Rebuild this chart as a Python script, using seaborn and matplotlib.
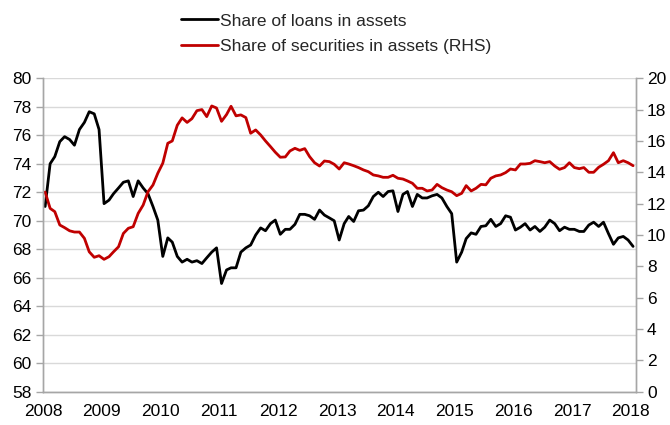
import numpy as np
import pandas as pd
import matplotlib
matplotlib.use('Agg')
import matplotlib.pyplot as plt
import matplotlib.dates as mdates
import seaborn as sns

# monthly observations, Jan 2008 - Jan 2018
months = pd.date_range('2008-01-01', periods=121, freq='MS') + pd.Timedelta(days=14)

loans_share = [
    71.0, 74.0, 74.5, 75.55, 75.9, 75.7, 75.3, 76.4, 76.9, 77.65, 77.5, 76.4,
    71.2, 71.45, 71.9, 72.3, 72.7, 72.8, 71.7, 72.8, 72.3, 71.9, 71.0, 70.05,
    67.5, 68.8, 68.5, 67.5, 67.1, 67.3, 67.1, 67.2, 67.0, 67.4, 67.8, 68.1,
    65.6, 66.55, 66.7, 66.7, 67.8, 68.1, 68.3, 69.0, 69.5, 69.3, 69.8, 70.05,
    69.05, 69.4, 69.4, 69.75, 70.45, 70.45, 70.35, 70.1, 70.75, 70.4, 70.2, 70.0,
    68.65, 69.8, 70.3, 69.95, 70.7, 70.75, 71.05, 71.7, 72.0, 71.7, 72.05, 72.1,
    70.65, 71.85, 72.05, 71.0, 71.85, 71.6, 71.6, 71.75, 71.85, 71.6, 71.0, 70.5,
    67.1, 67.8, 68.75, 69.15, 69.05, 69.6, 69.65, 70.1, 69.6, 69.8, 70.35, 70.25,
    69.35, 69.55, 69.8, 69.35, 69.6, 69.25, 69.55, 70.05, 69.8, 69.3, 69.55, 69.4,
    69.4, 69.25, 69.25, 69.7, 69.9, 69.6, 69.9, 69.1, 68.35, 68.8, 68.9, 68.65,
    68.2,
]

securities_share = [
    12.74, 11.7, 11.49, 10.64, 10.47, 10.27, 10.19, 10.19, 9.79, 8.93, 8.58, 8.68,
    8.45, 8.62, 8.93, 9.25, 10.1, 10.43, 10.53, 11.38, 11.91, 12.76, 13.19, 13.94,
    14.58, 15.85, 16.0, 17.0, 17.47, 17.18, 17.42, 17.93, 18.0, 17.55, 18.23, 18.1,
    17.25, 17.68, 18.21, 17.6, 17.66, 17.49, 16.49, 16.7, 16.38, 16.0, 15.64, 15.28,
    14.96, 14.98, 15.36, 15.53, 15.4, 15.51, 15.0, 14.61, 14.4, 14.72, 14.68, 14.51,
    14.21, 14.61, 14.53, 14.42, 14.3, 14.15, 14.04, 13.83, 13.77, 13.68, 13.68, 13.81,
    13.62, 13.57, 13.45, 13.3, 12.98, 12.98, 12.81, 12.87, 13.23, 13.02, 12.87, 12.76,
    12.51, 12.66, 13.15, 12.81, 12.98, 13.23, 13.2, 13.62, 13.77, 13.83, 13.98, 14.21,
    14.15, 14.53, 14.53, 14.57, 14.74, 14.68, 14.61, 14.68, 14.4, 14.19, 14.3, 14.61,
    14.3, 14.23, 14.3, 14.0, 14.0, 14.32, 14.51, 14.74, 15.25, 14.61, 14.74, 14.61,
    14.42,
]

left_ticks = list(range(58, 81, 2))
right_ticks = list(range(0, 21, 2))
year_ticks = pd.date_range('2008-01-01', '2018-01-01', freq='YS')

df = pd.DataFrame({'date': months, 'loans': loans_share, 'securities': securities_share})

sns.set_style('white')
plt.rcParams['font.family'] = ['Liberation Sans', 'DejaVu Sans']

fig = plt.figure(figsize=(6.7, 4.25), dpi=100)
ax = fig.add_axes([0.064, 0.078, 0.885, 0.738])
ax2 = ax.twinx()

grey = '#a6a6a6'
red = '#c00000'

sns.lineplot(data=df, x='date', y='loans', ax=ax, color='black', linewidth=2.0,
             label='Share of loans in assets', legend=False)
sns.lineplot(data=df, x='date', y='securities', ax=ax2, color=red, linewidth=2.0,
             label='Share of securities in assets (RHS)', legend=False)

ax.set_ylim(58, 80)
ax.set_yticks(left_ticks)
ax2.set_ylim(0, 20)
ax2.set_yticks(right_ticks)
ax.set_xlim(pd.Timestamp('2008-01-01'), pd.Timestamp('2018-02-01'))
ax.set_xticks(year_ticks)
ax.xaxis.set_major_formatter(mdates.DateFormatter('%Y'))

ax.set_xlabel('')
ax.set_ylabel('')
ax2.set_ylabel('')

ax.grid(axis='y', color='#d9d9d9', linewidth=1.0)
ax.set_axisbelow(True)

for a in (ax, ax2):
    for s in a.spines.values():
        s.set_color(grey)
        s.set_linewidth(1.0)
    a.spines['top'].set_visible(False)
    a.tick_params(colors=grey, labelcolor='black', labelsize=12.5, length=5, width=1.0, direction='out')

ax.tick_params(axis='x', pad=4)
ax.tick_params(axis='y', pad=3)
ax2.tick_params(axis='y', pad=3)

handles = ax.get_lines()[:1] + ax2.get_lines()[:1]
labels = ['Share of loans in assets', 'Share of securities in assets (RHS)']
fig.legend(handles, labels, loc='upper left', bbox_to_anchor=(0.255, 0.993),
           frameon=False, fontsize=12.5, handlelength=2.1, handletextpad=0.15,
           labelspacing=0.6, borderaxespad=0.2)

fig.savefig('out.png', dpi=100)
